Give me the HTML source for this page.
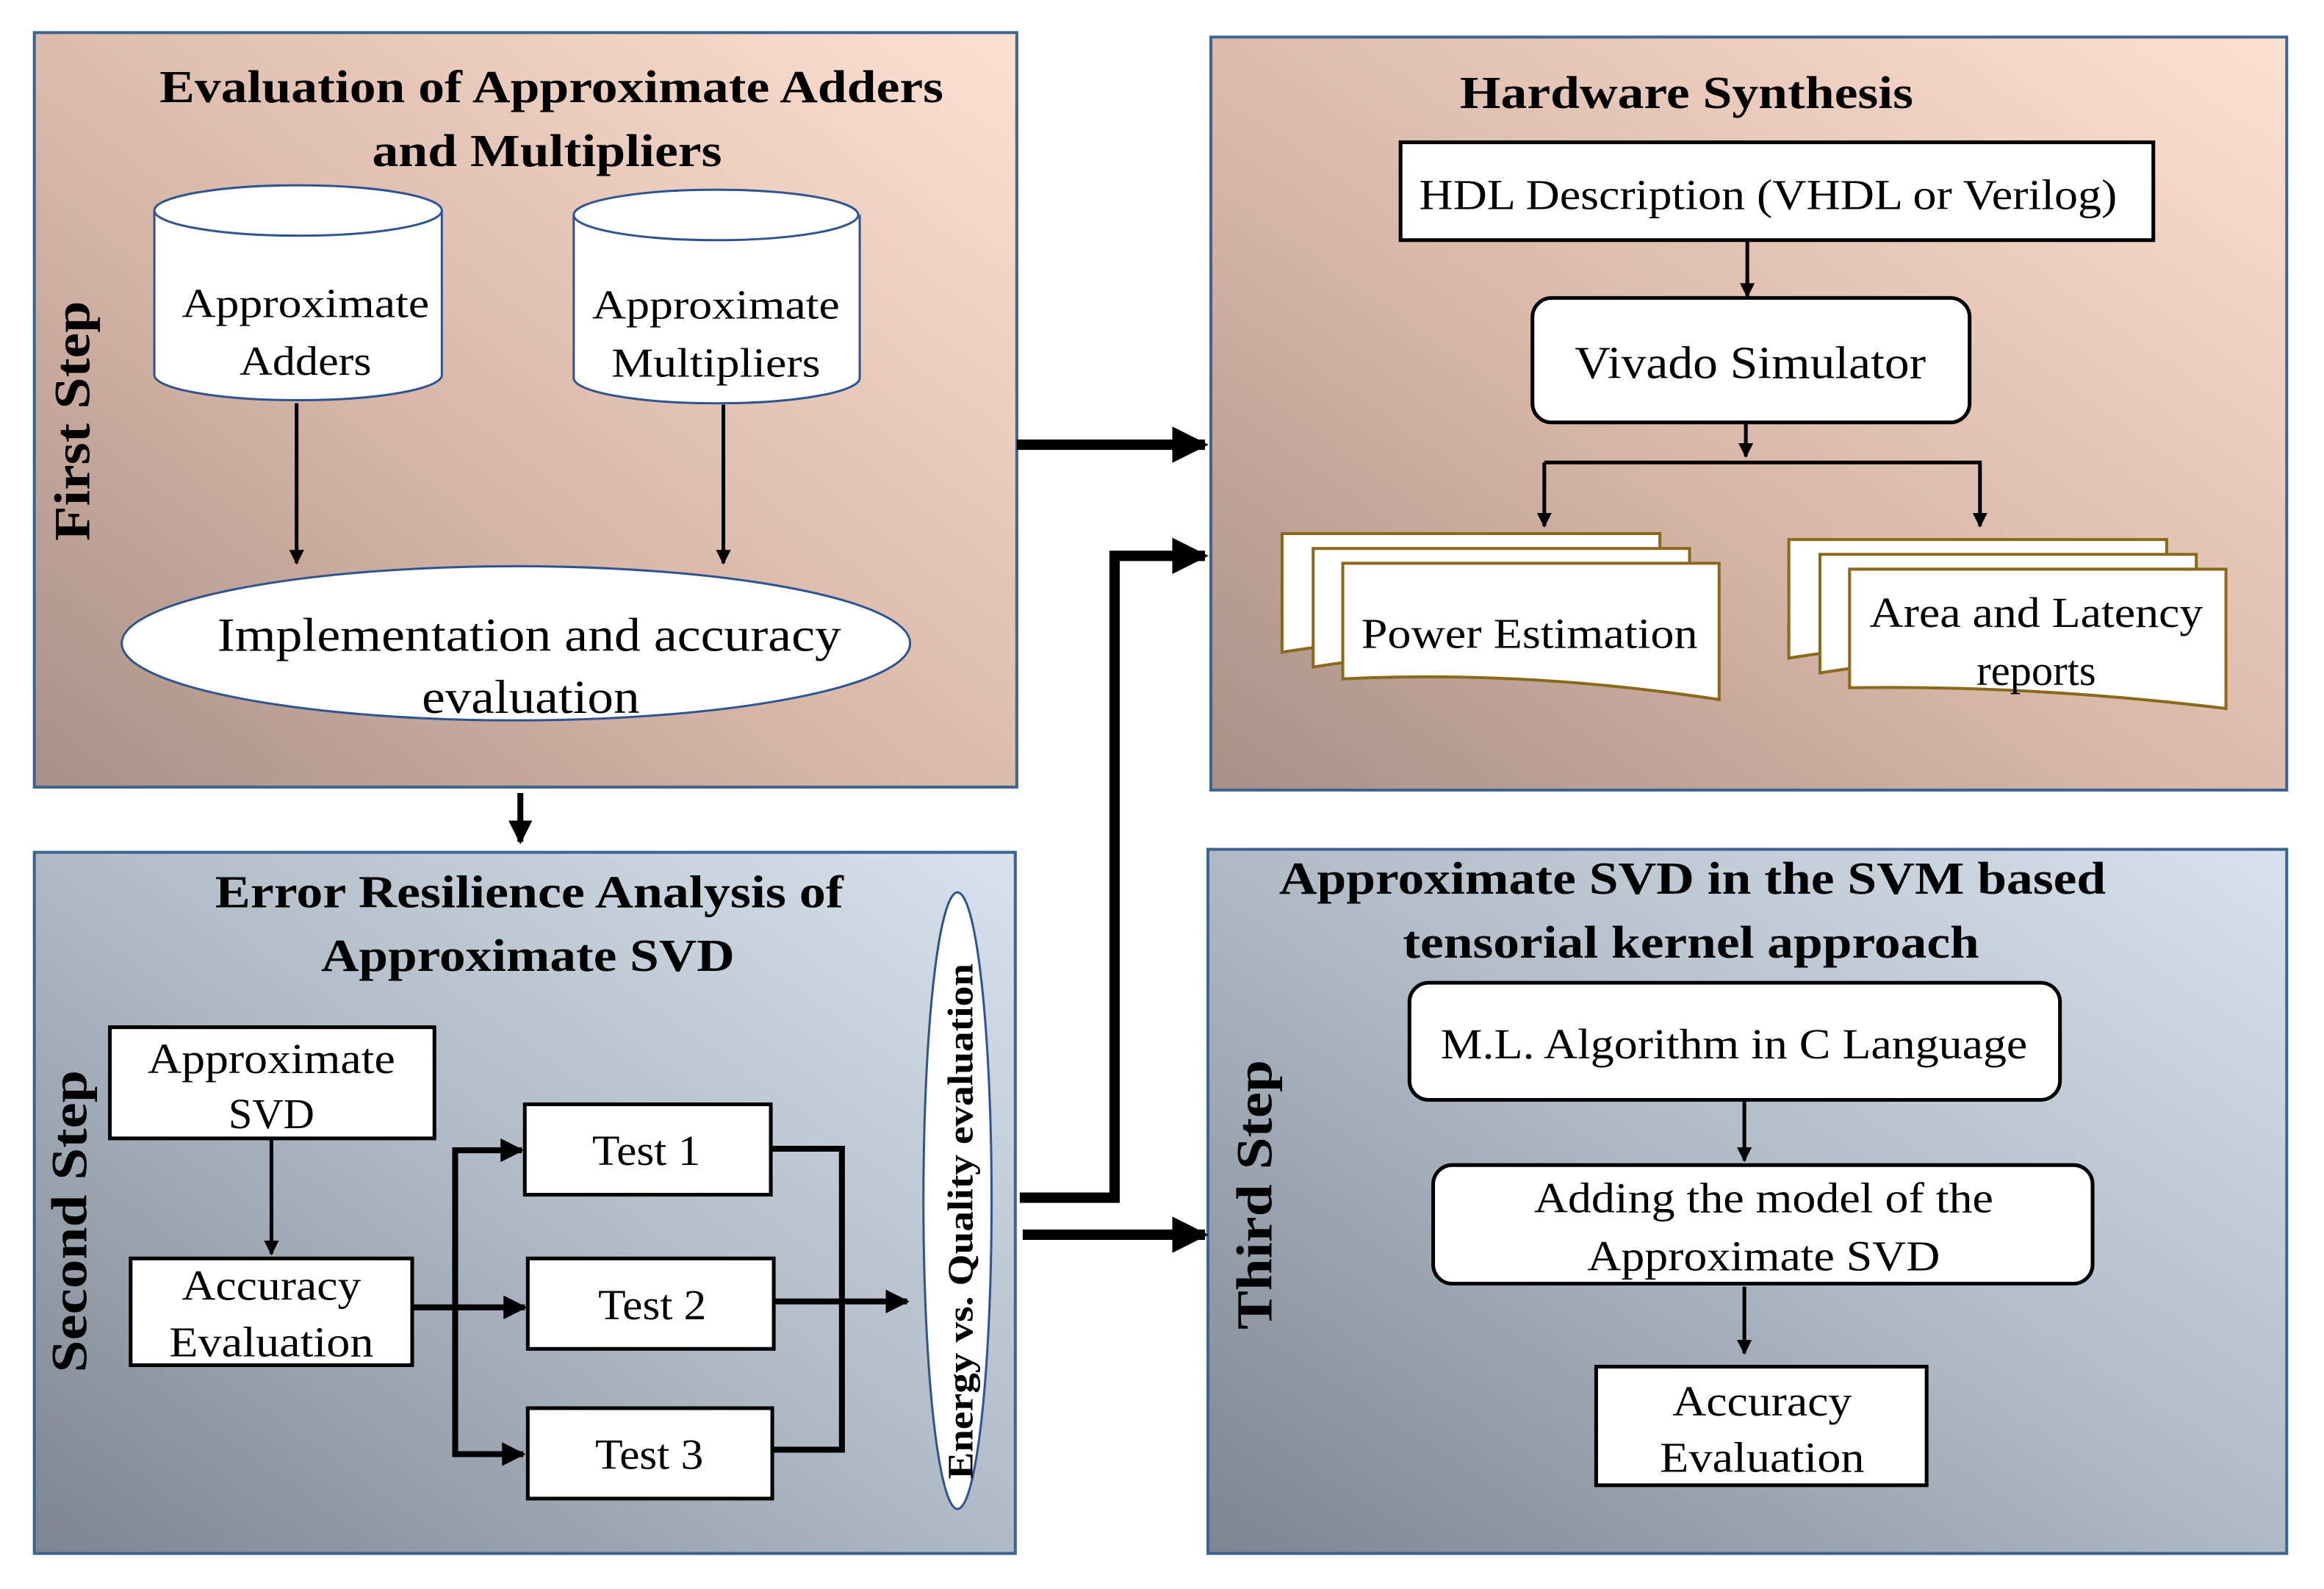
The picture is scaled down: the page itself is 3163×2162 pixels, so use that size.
<!DOCTYPE html>
<html><head><meta charset="utf-8"><style>html,body{margin:0;padding:0;background:#fff}svg{display:block}svg text{font-family:"Liberation Serif","Times New Roman",serif}</style></head><body>
<svg xmlns="http://www.w3.org/2000/svg" width="3163" height="2162" viewBox="0 0 1568 1072">
<defs>
<linearGradient id="pe" x1="1" y1="0" x2="0" y2="1"><stop offset="0" stop-color="#fde1d2"/><stop offset="0.55" stop-color="#d9b8a8"/><stop offset="1" stop-color="#a89088"/></linearGradient>
<linearGradient id="bl" x1="1" y1="0" x2="0" y2="1"><stop offset="0" stop-color="#d8e2ec"/><stop offset="0.5" stop-color="#b0bac6"/><stop offset="1" stop-color="#7c8590"/></linearGradient>
<marker id="a" viewBox="0 0 10 10" refX="9" refY="5" markerWidth="4" markerHeight="4" orient="auto"><path d="M0 0L10 5L0 10z" fill="#000"/></marker>
<marker id="b" viewBox="0 0 10 10" refX="9" refY="5" markerWidth="3.5" markerHeight="3.5" orient="auto"><path d="M0 0L10 5L0 10z" fill="#000"/></marker>
</defs>
<rect width="1568" height="1072" fill="#fff"/>
<g stroke="#3d6590" stroke-width="2">
<rect x="23" y="22" width="663" height="509" fill="url(#pe)"/>
<rect x="817" y="25" width="726" height="508" fill="url(#pe)"/>
<rect x="23" y="575" width="662" height="473" fill="url(#bl)"/>
<rect x="815" y="573" width="728" height="475" fill="url(#bl)"/>
</g>
<g font-weight="bold" font-size="31" text-anchor="middle" lengthAdjust="spacingAndGlyphs">
<text x="372" y="69" textLength="529" lengthAdjust="spacingAndGlyphs">Evaluation of Approximate Adders</text>
<text x="369" y="112" textLength="236" lengthAdjust="spacingAndGlyphs">and Multipliers</text>
<text x="1138" y="73" textLength="306" lengthAdjust="spacingAndGlyphs">Hardware Synthesis</text>
<text x="357" y="612" textLength="424" lengthAdjust="spacingAndGlyphs">Error Resilience Analysis of</text>
<text x="356" y="655" textLength="279" lengthAdjust="spacingAndGlyphs">Approximate SVD</text>
<text x="1142" y="603" textLength="558" lengthAdjust="spacingAndGlyphs">Approximate SVD in the SVM based</text>
<text x="1141" y="646" textLength="389" lengthAdjust="spacingAndGlyphs">tensorial kernel approach</text>
<text font-size="34" transform="translate(60,284) rotate(-90)" textLength="162" lengthAdjust="spacingAndGlyphs">First Step</text>
<text font-size="34" transform="translate(58,824) rotate(-90)" textLength="204" lengthAdjust="spacingAndGlyphs">Second Step</text>
<text font-size="34" transform="translate(858,806) rotate(-90)" textLength="182" lengthAdjust="spacingAndGlyphs">Third Step</text>
</g>
<g stroke="#2f5590" stroke-width="1.5" fill="#fff">
<path d="M104 142 V253 A97 17 0 0 0 298 253 V142"/>
<ellipse cx="201" cy="142" rx="97" ry="17"/>
<path d="M387 145 V255 A96 17 0 0 0 580 255 V145"/>
<ellipse cx="483" cy="145" rx="96" ry="17"/>
<ellipse cx="348" cy="434" rx="266" ry="52"/>
<ellipse cx="646" cy="810" rx="23" ry="208"/>
</g>
<g font-size="28" text-anchor="middle">
<text x="206" y="214" textLength="167" lengthAdjust="spacingAndGlyphs">Approximate</text><text x="206" y="253" textLength="89" lengthAdjust="spacingAndGlyphs">Adders</text>
<text x="483" y="215" textLength="167" lengthAdjust="spacingAndGlyphs">Approximate</text><text x="483" y="254" textLength="141" lengthAdjust="spacingAndGlyphs">Multipliers</text>
<text x="357" y="439" font-size="32" textLength="421" lengthAdjust="spacingAndGlyphs">Implementation and accuracy</text>
<text x="358" y="481" font-size="32" textLength="147" lengthAdjust="spacingAndGlyphs">evaluation</text>
</g>
<text font-weight="bold" font-size="24" text-anchor="middle" transform="translate(656,824) rotate(-90)" textLength="348" lengthAdjust="spacingAndGlyphs">Energy vs. Quality evaluation</text>
<g stroke="#000" stroke-width="2.5" fill="none" marker-end="url(#a)">
<line x1="200" y1="272" x2="200" y2="380"/>
<line x1="488" y1="273" x2="488" y2="380"/>
<line x1="1179" y1="163" x2="1179" y2="200"/>
<line x1="1178" y1="286" x2="1178" y2="308"/>
<polyline points="1042,312 1336,312 1336,355"/>
<line x1="1042" y1="312" x2="1042" y2="355"/>
<line x1="183" y1="768" x2="183" y2="846"/>
<line x1="1177" y1="743" x2="1177" y2="783"/>
<line x1="1177" y1="868" x2="1177" y2="913"/>
</g>
<g stroke="#000" stroke-width="4" fill="none" marker-end="url(#a)">
<line x1="278" y1="882" x2="354" y2="882"/>
<polyline points="307,882 307,776 352,776"/>
<polyline points="307,882 307,981 353,981"/>
<line x1="522" y1="878" x2="612" y2="878"/>
<line x1="351" y1="535" x2="351" y2="568"/>
</g>
<polyline points="520,775 568,775 568,978 521,978" stroke="#000" stroke-width="4" fill="none"/>
<g stroke="#000" stroke-width="7" fill="none" marker-end="url(#b)">
<line x1="686" y1="300" x2="813" y2="300"/>
<polyline points="688,808 752,808 752,375 813,375"/>
<line x1="690" y1="833" x2="813" y2="833"/>
</g>
<g stroke="#000" stroke-width="2.5" fill="#fff">
<rect x="945" y="96" width="508" height="66"/>
<rect x="1034" y="201" width="295" height="84" rx="13"/>
<rect x="74" y="693" width="219" height="75"/>
<rect x="88" y="849" width="190" height="72"/>
<rect x="354" y="745" width="166" height="61"/>
<rect x="356" y="849" width="166" height="61"/>
<rect x="356" y="950" width="165" height="61"/>
<rect x="951" y="663" width="439" height="79" rx="13"/>
<rect x="967" y="786" width="445" height="80" rx="13"/>
<rect x="1077" y="922" width="223" height="80"/>
</g>
<g stroke="#8a6a1a" stroke-width="2" fill="#fff">
<path d="M865 360H1120V440Q990 420 865 440Z"/>
<path d="M886 370H1140V450Q1010 430 886 450Z"/>
<path d="M906 380H1160V472Q1030 452 906 458Z"/>
<path d="M1207 364H1462V444Q1330 424 1207 444Z"/>
<path d="M1228 374H1482V454Q1350 434 1228 454Z"/>
<path d="M1248 384H1502V478Q1370 462 1248 464Z"/>
</g>
<g font-size="29" text-anchor="middle">
<text x="1193" y="141" textLength="471" lengthAdjust="spacingAndGlyphs">HDL Description (VHDL or Verilog)</text>
<text x="1181" y="255" font-size="31" textLength="237" lengthAdjust="spacingAndGlyphs">Vivado Simulator</text>
<text x="1032" y="437" textLength="227" lengthAdjust="spacingAndGlyphs">Power Estimation</text>
<text x="1374" y="423" textLength="225" lengthAdjust="spacingAndGlyphs">Area and Latency</text>
<text x="1374" y="462">reports</text>
<text x="183" y="724" textLength="167" lengthAdjust="spacingAndGlyphs">Approximate</text><text x="183" y="761">SVD</text>
<text x="183" y="877" textLength="121" lengthAdjust="spacingAndGlyphs">Accuracy</text><text x="183" y="915" textLength="138" lengthAdjust="spacingAndGlyphs">Evaluation</text>
<text x="436" y="786" textLength="73" lengthAdjust="spacingAndGlyphs">Test 1</text>
<text x="440" y="890" textLength="73" lengthAdjust="spacingAndGlyphs">Test 2</text>
<text x="438" y="991" textLength="73" lengthAdjust="spacingAndGlyphs">Test 3</text>
<text x="1170" y="714" textLength="396" lengthAdjust="spacingAndGlyphs">M.L. Algorithm in C Language</text>
<text x="1190" y="818" textLength="310" lengthAdjust="spacingAndGlyphs">Adding the model of the</text>
<text x="1190" y="857" textLength="238" lengthAdjust="spacingAndGlyphs">Approximate SVD</text>
<text x="1189" y="955" textLength="121" lengthAdjust="spacingAndGlyphs">Accuracy</text><text x="1189" y="993" textLength="138" lengthAdjust="spacingAndGlyphs">Evaluation</text>
</g>
</svg>
</body></html>
